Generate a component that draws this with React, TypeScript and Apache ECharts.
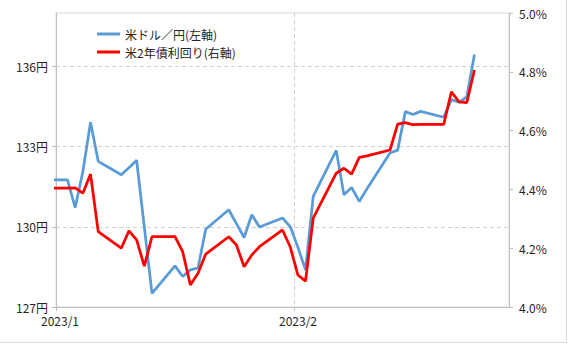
import React, { useEffect, useRef } from "react";
import * as echarts from "echarts";

// Trading days (daily closes)
const dates = [
  "2022-12-30",
  "2023-01-02", "2023-01-03", "2023-01-04", "2023-01-05", "2023-01-06",
  "2023-01-09", "2023-01-10", "2023-01-11", "2023-01-12", "2023-01-13",
  "2023-01-16", "2023-01-17", "2023-01-18", "2023-01-19", "2023-01-20",
  "2023-01-23", "2023-01-24", "2023-01-25", "2023-01-26", "2023-01-27",
  "2023-01-30", "2023-01-31", "2023-02-01", "2023-02-02", "2023-02-03",
  "2023-02-06", "2023-02-07", "2023-02-08", "2023-02-09", "2023-02-10",
  "2023-02-13", "2023-02-14", "2023-02-15", "2023-02-16", "2023-02-17",
  "2023-02-20", "2023-02-21", "2023-02-22", "2023-02-23", "2023-02-24",
];

// USD/JPY (left axis, 円)
const usdJpy = [
  131.76,
  131.76, 130.72, 132.07, 133.91, 132.45,
  131.95, 132.21, 132.49, 130.0, 127.51,
  128.54, 128.14, 128.39, 128.46, 129.91,
  130.64, 130.12, 129.6, 130.45, 129.99,
  130.33, 130.01, 129.24, 128.39, 131.14,
  132.86, 131.2, 131.47, 130.95, 131.42,
  132.76, 132.87, 134.31, 134.2, 134.32,
  134.1, 134.76, 134.66, 134.86, 136.45,
];

// US 2-year yield (right axis, %)
const us2y = [
  4.404,
  4.404, 4.405, 4.387, 4.452, 4.256,
  4.2, 4.259, 4.228, 4.139, 4.239,
  4.239, 4.188, 4.075, 4.115, 4.18,
  4.239, 4.211, 4.137, 4.177, 4.205,
  4.262, 4.205, 4.109, 4.088, 4.302,
  4.455, 4.472, 4.452, 4.509, 4.514,
  4.534, 4.622, 4.627, 4.62, 4.621,
  4.621, 4.732, 4.698, 4.695, 4.806,
];

const seriesNames = ["米ドル／円(左軸)", "米2年債利回り(右軸)"];
const axisStart = "2023-01-01";
const axisEnd = "2023-03-01";
const monthStarts = ["2023-01-01", "2023-02-01"];
const monthLabels = ["2023/1", "2023/2"];

const DAY = 86400000;
const toDay = (d: string) => (Date.parse(d + "T00:00:00Z") - Date.parse(axisStart + "T00:00:00Z")) / DAY;
// Excel date axis centres each point in its day slot
const xs = dates.map((d) => toDay(d) + 0.5);
const xMax = toDay(axisEnd);
const monthTicks = monthStarts.map(toDay);

const FONT = '"Noto Sans CJK JP", "Noto Sans", sans-serif';
const TEXT = "#262626";

export default function App() {
  const ref = useRef<HTMLDivElement>(null);
  useEffect(() => {
    document.body.style.margin = "0";
    const chart = echarts.init(ref.current!, undefined, { renderer: "svg" });
    chart.setOption({
      animation: false,
      backgroundColor: "#ffffff",
      textStyle: { fontFamily: FONT },
      grid: {
        left: 56,
        right: 59,
        top: 13,
        bottom: 37,
        show: true,
        borderColor: "#d9d9d9",
        borderWidth: 1,
        containLabel: false,
      },
      legend: {
        orient: "vertical",
        left: 92,
        top: 22,
        icon: "rect",
        itemWidth: 23,
        itemHeight: 3,
        itemGap: 4,
        textStyle: { fontSize: 12, color: TEXT, fontFamily: FONT, lineHeight: 14 },
        data: seriesNames,
      },
      xAxis: {
        type: "value",
        min: 0,
        max: xMax,
        interval: monthTicks[1] - monthTicks[0],
        axisLine: { show: true, lineStyle: { color: "#bfbfbf", width: 1 } },
        axisTick: { show: true, length: 4, lineStyle: { color: "#bfbfbf" } },
        axisLabel: {
          color: TEXT,
          fontSize: 12,
          fontFamily: FONT,
          margin: 7,
          padding: [0, 0, 0, 8],
          showMaxLabel: false,
          formatter: (v: number) => {
            const i = monthTicks.indexOf(v);
            return i >= 0 ? monthLabels[i] : "";
          },
        },
        splitLine: {
          show: true,
          showMinLine: false,
          showMaxLine: false,
          lineStyle: { color: "#d0d0d0", type: [4, 3], width: 1 },
        },
      },
      yAxis: [
        {
          type: "value",
          min: 127,
          max: 138,
          interval: 3,
          position: "left",
          axisLine: { show: true, lineStyle: { color: "#bfbfbf", width: 1 } },
          axisTick: { show: true, length: 4, lineStyle: { color: "#bfbfbf" } },
          axisLabel: {
            color: TEXT,
            fontSize: 12,
            fontFamily: FONT,
            margin: 8,
            showMaxLabel: false,
            formatter: (v: number) => `${v}円`,
          },
          splitLine: {
            show: true,
            showMinLine: false,
            showMaxLine: false,
            lineStyle: { color: "#d0d0d0", type: [4, 3], width: 1 },
          },
        },
        {
          type: "value",
          min: 4.0,
          max: 5.0,
          interval: 0.2,
          position: "right",
          axisLine: { show: true, lineStyle: { color: "#bfbfbf", width: 1 } },
          axisTick: { show: true, length: 4, lineStyle: { color: "#bfbfbf" } },
          axisLabel: {
            color: TEXT,
            fontSize: 12,
            fontFamily: FONT,
            margin: 10,
            formatter: (v: number) => `${v.toFixed(1)}%`,
          },
          splitLine: { show: false },
        },
      ],
      graphic: [
        { type: "line", shape: { x1: 0, y1: 342.5, x2: 567, y2: 342.5 }, style: { stroke: "#d9d9d9", lineWidth: 1 } },
        { type: "line", shape: { x1: 566.5, y1: 0, x2: 566.5, y2: 343 }, style: { stroke: "#d9d9d9", lineWidth: 1 } },
      ],
      series: [
        {
          name: seriesNames[0],
          type: "line",
          yAxisIndex: 0,
          symbol: "none",
          clip: true,
          lineStyle: { color: "#5b9bd5", width: 2.75 },
          itemStyle: { color: "#5b9bd5" },
          data: xs.map((x, i) => [x, usdJpy[i]]),
          z: 2,
        },
        {
          name: seriesNames[1],
          type: "line",
          yAxisIndex: 1,
          symbol: "none",
          clip: true,
          lineStyle: { color: "#ff0000", width: 2.75 },
          itemStyle: { color: "#ff0000" },
          data: xs.map((x, i) => [x, us2y[i]]),
          z: 3,
        },
      ],
    });
    return () => chart.dispose();
  }, []);
  return (
    <div
      ref={ref}
      style={{ position: "absolute", left: 0, top: 0, width: 568, height: 344 }}
    />
  );
}
